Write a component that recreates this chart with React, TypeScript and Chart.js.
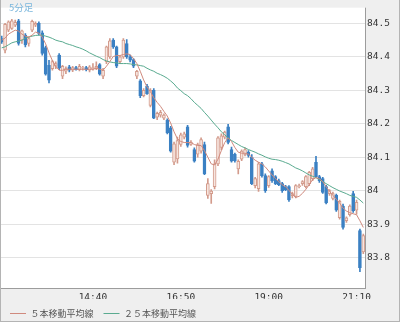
import React, { useEffect, useRef } from "react";
import { Chart, registerables } from "chart.js";

Chart.register(...registerables);

// ---- data ----
const START_TIME = "12:25";
const BAR_MINUTES = 5;
const TIME_TICKS = ["14:40", "16:50", "19:00", "21:10"];
const TIMEFRAME_LABEL = "5分足";
const LABEL_MA5 = "５本移動平均線";
const LABEL_MA25 = "２５本移動平均線";
const Y_MIN = 83.709;
const Y_MAX = 84.547;
const Y_STEP = 0.1;

const OPEN = [
  84.455, 84.42, 84.48, 84.485, 84.495, 84.508, 84.45, 84.465, 84.44, 84.48,
  84.495, 84.5, 84.472, 84.428, 84.375, 84.365, 84.372, 84.405, 84.342, 84.357,
  84.37, 84.36, 84.368, 84.362, 84.366, 84.368, 84.36, 84.365, 84.366, 84.377,
  84.342, 84.386, 84.4, 84.45, 84.43, 84.386, 84.4, 84.44, 84.4, 84.392,
  84.342, 84.328, 84.284, 84.313, 84.255, 84.3, 84.22, 84.226, 84.217, 84.211,
  84.188, 84.085, 84.095, 84.138, 84.16, 84.191, 84.138, 84.123, 84.109, 84.118,
  84.138, 83.986, 83.991, 84.012, 84.08, 84.129, 84.16, 84.191, 84.123, 84.109,
  84.065, 84.094, 84.108, 84.115, 84.1, 84.015, 84.006, 84.08, 84.045, 84.015,
  84.059, 84.042, 84.03, 84.021, 84.012, 84.012, 83.985, 83.983, 84.012, 84.021,
  84.012, 84.021, 84.036, 84.085, 84.042, 84.036, 84.012, 83.991, 83.977, 83.986,
  83.919, 83.954, 83.91, 83.928, 83.991, 83.942, 83.881, 83.817,
];
const HIGH = [
  84.462, 84.5, 84.508, 84.512, 84.51, 84.512, 84.48, 84.47, 84.46, 84.51,
  84.505, 84.505, 84.478, 84.432, 84.39, 84.39, 84.385, 84.41, 84.375, 84.37,
  84.375, 84.372, 84.372, 84.378, 84.372, 84.372, 84.374, 84.38, 84.385, 84.38,
  84.366, 84.432, 84.455, 84.455, 84.432, 84.402, 84.455, 84.452, 84.405, 84.395,
  84.36, 84.332, 84.305, 84.318, 84.305, 84.305, 84.235, 84.24, 84.23, 84.215,
  84.192, 84.145, 84.16, 84.172, 84.175, 84.195, 84.15, 84.128, 84.142, 84.158,
  84.145, 84.036, 84.003, 84.092, 84.162, 84.17, 84.178, 84.198, 84.13, 84.112,
  84.092, 84.122, 84.128, 84.12, 84.108, 84.04, 84.085, 84.085, 84.05, 84.045,
  84.065, 84.045, 84.035, 84.025, 84.016, 84.015, 83.996, 84.018, 84.02, 84.03,
  84.045, 84.058, 84.07, 84.103, 84.046, 84.04, 84.016, 84.003, 83.996, 83.99,
  83.972, 83.96, 83.922, 83.958, 83.998, 83.972, 83.885, 83.87,
];
const LOW = [
  84.44, 84.412, 84.475, 84.482, 84.49, 84.435, 84.44, 84.43, 84.432, 84.475,
  84.49, 84.465, 84.405, 84.345, 84.322, 84.36, 84.365, 84.362, 84.335, 84.35,
  84.355, 84.356, 84.36, 84.358, 84.36, 84.358, 84.355, 84.36, 84.362, 84.345,
  84.335, 84.38, 84.395, 84.425, 84.368, 84.38, 84.395, 84.395, 84.385, 84.368,
  84.335, 84.278, 84.28, 84.288, 84.25, 84.215, 84.212, 84.22, 84.212, 84.17,
  84.115, 84.078, 84.082, 84.132, 84.155, 84.13, 84.135, 84.085, 84.1, 84.112,
  84.048, 83.977, 83.962, 84.005, 84.075, 84.122, 84.155, 84.14, 84.085, 84.085,
  84.05, 84.09, 84.104, 84.1, 84.018, 84.008, 83.998, 84.04, 83.995, 84.01,
  84.025, 84.018, 84.015, 83.995, 84.0, 83.968, 83.978, 83.978, 84.008, 84.016,
  84.008, 84.015, 84.03, 84.04, 84.025, 83.992, 83.96, 83.986, 83.972, 83.938,
  83.915, 83.885, 83.905, 83.924, 83.935, 83.93, 83.758, 83.812,
];
const CLOSE = [
  84.445, 84.497, 84.505, 84.508, 84.503, 84.44, 84.478, 84.436, 84.455, 84.506,
  84.5, 84.47, 84.41, 84.348, 84.33, 84.386, 84.38, 84.366, 84.372, 84.365,
  84.36, 84.368, 84.362, 84.372, 84.368, 84.362, 84.37, 84.368, 84.372, 84.348,
  84.36, 84.43, 84.448, 84.43, 84.372, 84.4, 84.45, 84.4, 84.39, 84.372,
  84.357, 84.284, 84.3, 84.29, 84.3, 84.217, 84.231, 84.234, 84.226, 84.173,
  84.118, 84.14, 84.15, 84.167, 84.17, 84.135, 84.145, 84.088, 84.138, 84.153,
  84.05, 84.021, 83.999, 84.08, 84.158, 84.164, 84.175, 84.144, 84.088, 84.09,
  84.088, 84.118, 84.123, 84.105, 84.021, 84.036, 84.08, 84.045, 84.0, 84.042,
  84.03, 84.021, 84.018, 84.0, 84.003, 83.972, 83.991, 84.015, 84.015, 84.027,
  84.042, 84.055, 84.065, 84.042, 84.03, 83.995, 83.963, 84.0, 83.991, 83.942,
  83.968, 83.89, 83.919, 83.954, 83.94, 83.965, 83.77, 83.866,
];
const MA5 = [
  84.45, 84.456, 84.468, 84.474, 84.48, 84.477, 84.468, 84.462, 84.459, 84.465,
  84.474, 84.471, 84.459, 84.439, 84.412, 84.389, 84.372, 84.36, 84.36, 84.363,
  84.363, 84.363, 84.363, 84.363, 84.363, 84.363, 84.363, 84.363, 84.366, 84.363,
  84.36, 84.372, 84.386, 84.401, 84.404, 84.404, 84.407, 84.409, 84.407, 84.395,
  84.38, 84.357, 84.331, 84.31, 84.296, 84.278, 84.264, 84.252, 84.237, 84.223,
  84.202, 84.176, 84.155, 84.147, 84.144, 84.144, 84.144, 84.138, 84.135, 84.135,
  84.12, 84.1, 84.08, 84.077, 84.094, 84.12, 84.144, 84.158, 84.147, 84.129,
  84.115, 84.112, 84.112, 84.109, 84.1, 84.091, 84.085, 84.08, 84.071, 84.059,
  84.047, 84.036, 84.027, 84.018, 84.012, 84.001, 83.989, 83.98, 83.983, 83.992,
  84.004, 84.018, 84.033, 84.039, 84.036, 84.027, 84.012, 83.998, 83.986, 83.974,
  83.963, 83.948, 83.939, 83.934, 83.931, 83.928, 83.91, 83.89,
];
const MA25 = [
  84.427, 84.43, 84.436, 84.442, 84.445, 84.447, 84.45, 84.456, 84.459, 84.462,
  84.464, 84.465, 84.465, 84.462, 84.459, 84.455, 84.45, 84.447, 84.445, 84.44,
  84.437, 84.434, 84.43, 84.427, 84.423, 84.418, 84.412, 84.407, 84.402, 84.398,
  84.392, 84.388, 84.385, 84.383, 84.382, 84.38, 84.38, 84.38, 84.379, 84.377,
  84.376, 84.374, 84.372, 84.366, 84.361, 84.357, 84.351, 84.347, 84.342, 84.336,
  84.328, 84.319, 84.307, 84.299, 84.29, 84.284, 84.275, 84.264, 84.255, 84.246,
  84.234, 84.223, 84.211, 84.199, 84.188, 84.176, 84.167, 84.158, 84.15, 84.144,
  84.138, 84.132, 84.128, 84.123, 84.119, 84.115, 84.11, 84.106, 84.101, 84.097,
  84.094, 84.093, 84.091, 84.088, 84.084, 84.08, 84.074, 84.068, 84.064, 84.059,
  84.053, 84.047, 84.043, 84.039, 84.033, 84.027, 84.021, 84.015, 84.009, 84.004,
  83.999, 83.995, 83.991, 83.986, 83.983, 83.98, 83.972, 83.963,
];

// ---- derived categories ----
const [sh, sm] = START_TIME.split(":").map(Number);
const CATEGORIES = OPEN.map((_, i) => {
  const m = sh * 60 + sm + i * BAR_MINUTES;
  return `${Math.floor(m / 60)}:${String(m % 60).padStart(2, "0")}`;
});

// ---- styles ----
const UP_LINE = "#d39b8c";
const UP_FILL = "#f7e6e0";
const DOWN = "#3b80c3";
const MA5_COLOR = "#d08a7e";
const MA25_COLOR = "#5aab90";
const PANEL = "#efefef";
const FRAME_BOTTOM = 322;

const framePlugin = {
  id: "frame",
  beforeDraw(chart: any) {
    const { ctx, chartArea: a, width, height } = chart;
    ctx.save();
    ctx.fillStyle = "#ffffff";
    ctx.fillRect(0, 0, width, height);
    ctx.fillStyle = PANEL;
    ctx.fillRect(0, 0, width, FRAME_BOTTOM);
    ctx.fillStyle = "#ffffff";
    ctx.fillRect(a.left, a.top, a.right - a.left, a.bottom - a.top);
    ctx.restore();
  },
  afterDraw(chart: any) {
    const { ctx, chartArea: a, width } = chart;
    ctx.save();
    ctx.lineWidth = 1;
    ctx.strokeStyle = "#9c9c9c";
    ctx.beginPath();
    ctx.moveTo(a.right + 0.5, a.top);
    ctx.lineTo(a.right + 0.5, a.bottom + 1);
    ctx.moveTo(a.left, a.bottom + 0.5);
    ctx.lineTo(a.right + 1, a.bottom + 0.5);
    ctx.stroke();
    ctx.strokeStyle = "#b4b4b4";
    ctx.beginPath();
    ctx.moveTo(0.5, 0);
    ctx.lineTo(0.5, FRAME_BOTTOM);
    ctx.moveTo(width - 0.5, 0);
    ctx.lineTo(width - 0.5, FRAME_BOTTOM);
    ctx.moveTo(0, FRAME_BOTTOM - 0.5);
    ctx.lineTo(width, FRAME_BOTTOM - 0.5);
    ctx.stroke();
    ctx.fillStyle = "#7ab6dc";
    ctx.font = '9.5px "Noto Sans CJK JP"';
    ctx.textBaseline = "middle";
    ctx.textAlign = "left";
    ctx.fillText(TIMEFRAME_LABEL, 9, 7);
    ctx.restore();
  },
};

export default function App() {
  const ref = useRef<HTMLCanvasElement | null>(null);

  useEffect(() => {
    document.body.style.margin = "0";
    const canvas = ref.current;
    if (!canvas) return;
    const isUp = OPEN.map((o, i) => CLOSE[i] >= o);

    const chart = new Chart(canvas, {
      type: "bar",
      data: {
        labels: CATEGORIES,
        datasets: [
          {
            type: "line",
            label: LABEL_MA5,
            data: MA5,
            borderColor: MA5_COLOR,
            backgroundColor: MA5_COLOR,
            borderWidth: 1,
            pointRadius: 0,
            tension: 0,
            order: 0,
          } as any,
          {
            type: "line",
            label: LABEL_MA25,
            data: MA25,
            borderColor: MA25_COLOR,
            backgroundColor: MA25_COLOR,
            borderWidth: 1,
            pointRadius: 0,
            tension: 0,
            order: 1,
          } as any,
          {
            type: "bar",
            label: "body",
            data: OPEN.map((o, i) => [o, CLOSE[i]]),
            backgroundColor: isUp.map((u) => (u ? UP_FILL : DOWN)),
            borderColor: isUp.map((u) => (u ? UP_LINE : DOWN)),
            borderWidth: 1,
            borderSkipped: false,
            barThickness: 3,
            grouped: false,
            order: 2,
          } as any,
          {
            type: "bar",
            label: "wick",
            data: LOW.map((l, i) => [l, HIGH[i]]),
            backgroundColor: isUp.map((u) => (u ? UP_LINE : DOWN)),
            borderWidth: 0,
            barThickness: 1,
            grouped: false,
            order: 3,
          } as any,
        ],
      },
      options: {
        responsive: false,
        animation: false,
        events: [],
        layout: { padding: 0 },
        plugins: {
          tooltip: { enabled: false },
          legend: {
            position: "bottom",
            align: "start",
            labels: {
              filter: (item: any) => item.datasetIndex < 2,
              usePointStyle: true,
              pointStyle: "line",
              pointStyleWidth: 16,
              boxHeight: 10,
              padding: 10,
              color: "#555555",
              font: { family: '"Noto Sans CJK JP"', size: 9 },
            },
          },
        },
        scales: {
          x: {
            type: "category",
            offset: true,
            border: { display: false },
            grid: {
              offset: false,
              drawTicks: false,
              color: (ctx: any) =>
                TIME_TICKS.includes(CATEGORIES[ctx.index]) ? "#e3e3e3" : "rgba(0,0,0,0)",
            },
            ticks: {
              autoSkip: false,
              maxRotation: 0,
              minRotation: 0,
              padding: 4,
              color: "#333333",
              font: { family: '"DejaVu Sans Mono"', size: 9.5 },
              callback: (_v: any, i: number) =>
                TIME_TICKS.includes(CATEGORIES[i]) ? CATEGORIES[i] : null,
            },
            afterFit: (s: any) => {
              s.height = 11;
            },
          },
          y: {
            type: "linear",
            position: "right",
            min: Y_MIN,
            max: Y_MAX,
            border: { display: false },
            grid: { drawTicks: false, color: "#e3e3e3" },
            ticks: {
              stepSize: Y_STEP,
              includeBounds: false,
              padding: 2,
              color: "#333333",
              font: { family: '"DejaVu Sans Mono"', size: 9.5 },
              callback: (v: any) => String(Number(Number(v).toFixed(1))),
            },
            afterFit: (s: any) => {
              s.width = 35;
            },
          },
        },
      },
      plugins: [framePlugin],
    });
    return () => chart.destroy();
  }, []);

  return (
    <canvas ref={ref} width={400} height={328} style={{ display: "block", width: 400, height: 328 }} />
  );
}
